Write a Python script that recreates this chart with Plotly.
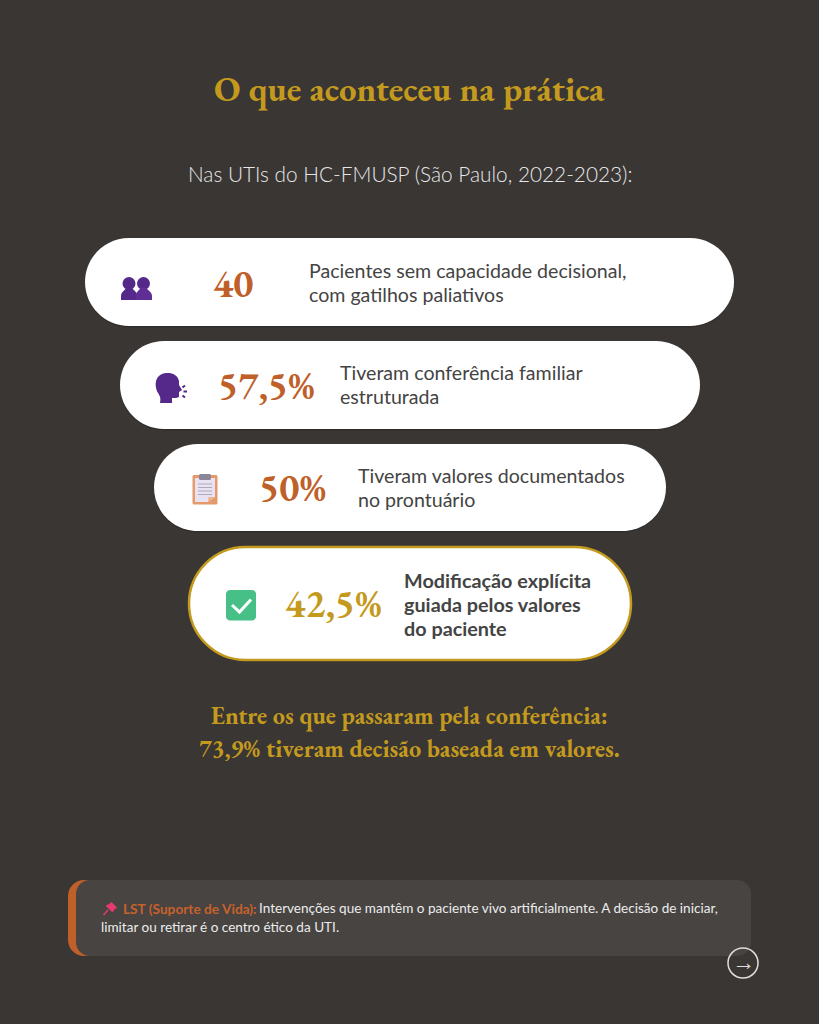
import plotly.graph_objects as go

# ---- content ----
title_text = "O que aconteceu na prática"
subtitle_text = "Nas UTIs do HC-FMUSP (São Paulo, 2022-2023):"
stat_values = ["40", "57,5%", "50%", "42,5%"]
stat_labels = [
    ["Pacientes sem capacidade decisional,", "com gatilhos paliativos"],
    ["Tiveram conferência familiar", "estruturada"],
    ["Tiveram valores documentados", "no prontuário"],
    ["<b>Modificação explícita</b>", "<b>guiada pelos valores</b>", "<b>do paciente</b>"],
]
conclusion_lines = ["Entre os que passaram pela conferência:",
                    "73,9% tiveram decisão baseada em valores."]
note_lead = "LST (Suporte de Vida):"
note_line1 = "Intervenções que mantêm o paciente vivo artificialmente. A decisão de iniciar,"
note_line2 = "limitar ou retirar é o centro ético da UTI."
arrow_text = "→"

# ---- layout geometry (page pixels) ----
BG = "#393634"
GOLD = "#c49a1e"
ORANGE = "#bf5f2a"
INK = "#444444"
PURPLE = "#55298a"
SERIF = "'EB Garamond', 'Liberation Serif', serif"
SANS = "Lato, sans-serif"

pill_x0 = [85, 120, 154, 189]
pill_x1 = [734, 700, 666, 631]
pill_y0 = [238, 341, 444, 547]
pill_y1 = [326, 429, 531, 660]
stat_cx = [233, 266, 292, 333]
stat_cy = [283, 385, 487, 603]
label_x = [309, 340, 358, 404]
label_y0 = [270, 372, 475, 580]
label_size = [19.6, 19.6, 19.6, 19.8]
stat_colors = [ORANGE, ORANGE, ORANGE, GOLD]


def rrect(x0, y0, x1, y1, r):
    k = 0.5523 * r
    return (f"M{x0+r},{y0} L{x1-r},{y0} C{x1-r+k},{y0} {x1},{y0+r-k} {x1},{y0+r} "
            f"L{x1},{y1-r} C{x1},{y1-r+k} {x1-r+k},{y1} {x1-r},{y1} "
            f"L{x0+r},{y1} C{x0+r-k},{y1} {x0},{y1-r+k} {x0},{y1-r} "
            f"L{x0},{y0+r} C{x0},{y0+r-k} {x0+r-k},{y0} {x0+r},{y0} Z")


shapes = []


def add_path(path, fill="rgba(0,0,0,0)", line=None, width=0):
    shapes.append(dict(type="path", path=path, xref="x", yref="y", fillcolor=fill,
                       line=dict(color=line or "rgba(0,0,0,0)", width=width)))


def add_circle(cx, cy, r, fill="rgba(0,0,0,0)", line=None, width=0):
    shapes.append(dict(type="circle", x0=cx-r, x1=cx+r, y0=cy-r, y1=cy+r, xref="x", yref="y",
                       fillcolor=fill, line=dict(color=line or "rgba(0,0,0,0)", width=width)))


# pills
for i in range(4):
    h = pill_y1[i] - pill_y0[i]
    r = h / 2
    add_path(rrect(pill_x0[i], pill_y0[i] + 1, pill_x1[i], pill_y1[i] + 1.5, r), fill="rgba(0,0,0,0.14)")
    if i == 3:
        add_path(rrect(pill_x0[i], pill_y0[i], pill_x1[i], pill_y1[i], r), fill="#ffffff", line="#c49a1e", width=2.5)
    else:
        add_path(rrect(pill_x0[i], pill_y0[i], pill_x1[i], pill_y1[i], r), fill="#ffffff")

# people icon (overlapping busts)
add_circle(129, 283.5, 6.5, fill=PURPLE)
add_circle(143.5, 283.5, 6.5, fill=PURPLE)
add_path("M121,300 L121,296 C121,292 125,290.5 126,288 L132,288 C134,290.5 137,292 137.5,296 L137.5,300 Z", fill=PURPLE)
add_path("M135.5,300 L135.5,296 C136,292 139,290.5 140.5,288 L146.5,288 C148,290.5 152,292 152,296 L152,300 Z", fill="#5f2f96")

# speaking head icon
add_path("M160,403 C161,398 160,396 158,393 C154.5,387 154.5,378 161,374.5 C168,371.5 177,373 179,381 "
         "L179,385 L182,390 L179,392 L179,396 C179,398 176,398 172,398 L172,403 Z", fill=PURPLE)
add_path("M182.5,387.5 L185,385.5", line=PURPLE, width=2)
add_path("M183.5,391.5 L187,391.5", line=PURPLE, width=2)
add_path("M182.5,395.5 L185,397.5", line=PURPLE, width=2)

# clipboard icon
add_path(rrect(192.5, 475, 217.5, 504.5, 1.5), fill="#e59a6b")
add_path("M195,478 L215,478 L215,497 L208,502 L195,502 Z", fill="#e8e2f2")
add_path("M208,502 L208.5,497 L215,497 Z", fill="#eeb48d")
add_path(rrect(199, 474, 211, 480, 1.5), fill="#8b8698")
for yy in (484, 487.5, 491, 494.5):
    add_path(f"M198,{yy} L212,{yy}", line="#a8a3b6", width=0.9)

# check icon
add_path(rrect(226, 590, 256, 620.5, 4), fill="#46c086")
add_path("M232,605 L239.5,612 L251,599.5", line="#ffffff", width=3)

# note card
add_path(rrect(68, 880, 140, 956, 16), fill=ORANGE)
add_path(rrect(76, 880, 751, 956, 14), fill="#474442")

# pin icon
PIN = "#e63a6e"
add_path("M111.5,902 L117.5,908 L115,908.8 L112.5,912.5 L105.5,905.8 L109.5,903.8 Z", fill=PIN)
add_path("M108,910 L103.5,915", line=PIN, width=1.5)

# next button
add_circle(743, 963, 15, line="#dedede", width=1.5)

annotations = []


def add_text(x, y, text, size, color, family, anchor="left", weight=None):
    annotations.append(dict(x=x, y=y, xref="x", yref="y", text=text, showarrow=False,
                            xanchor=anchor, yanchor="middle", align=anchor, borderpad=0, borderwidth=0,
                            font=dict(size=size, color=color, family=family,
                                      **({"weight": weight} if weight else {}))))


add_text(409.5, 88.5, f"<b>{title_text}</b>", 34.9, GOLD, SERIF, "center")
add_text(410, 173, subtitle_text, 20.8, "#e6e6e6", "'Lato Light', Lato, sans-serif", "center", 300)

for i in range(4):
    add_text(stat_cx[i], stat_cy[i], f"<b>{stat_values[i]}</b>", 38.2, stat_colors[i], SERIF, "center")
    for j, line in enumerate(stat_labels[i]):
        add_text(label_x[i], label_y0[i] + j * 24, line, label_size[i], INK, SANS)

add_text(409.5, 716, f"<b>{conclusion_lines[0]}</b>", 24.2, GOLD, SERIF, "center")
add_text(409.5, 748, f"<b>{conclusion_lines[1]}</b>", 24.2, GOLD, SERIF, "center")

add_text(123, 908, f"<b>{note_lead}</b>", 13.7, "#c8612b", SANS)
add_text(259, 908, note_line1, 13.55, "#ececec", SANS)
add_text(101, 927, note_line2, 13.55, "#ececec", SANS)
add_text(743, 962, arrow_text, 23, "#dedede", "'Liberation Sans', sans-serif", "center")

fig = go.Figure()
fig.update_layout(
    width=819, height=1024, margin=dict(l=0, r=0, t=0, b=0, pad=0),
    paper_bgcolor=BG, plot_bgcolor=BG, showlegend=False,
    xaxis=dict(range=[0, 819], visible=False, fixedrange=True),
    yaxis=dict(range=[1024, 0], visible=False, fixedrange=True),
    shapes=shapes, annotations=annotations,
)
fig.write_html("out.html", config={"displayModeBar": False},
               post_script="document.body.style.margin='0';document.body.style.background='#393634';")
